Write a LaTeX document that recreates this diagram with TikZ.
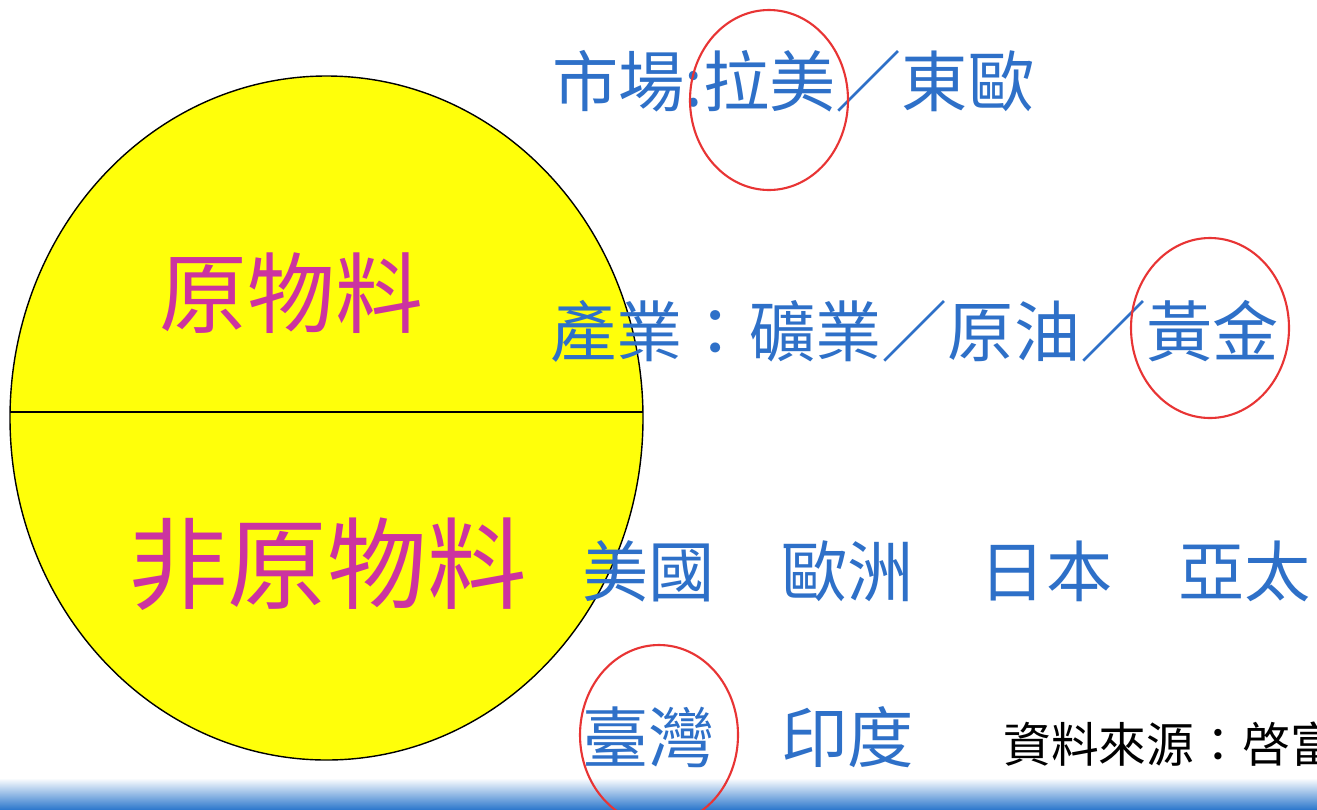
\documentclass[tikz,border=0pt]{standalone}
\usepackage{fontspec}
\setmainfont{Noto Sans CJK TC}
\usepackage{tikz}

\definecolor{txtblue}{RGB}{46,112,200}
\definecolor{rawpink}{RGB}{204,51,160}
\definecolor{mrkred}{RGB}{232,52,52}
\definecolor{barblue}{RGB}{48,122,205}
\definecolor{disk}{RGB}{255,255,10}

\tikzset{
  bluetext/.style={inner sep=0pt, anchor=base west, text=txtblue, font=\fontsize{37.7}{40}\selectfont},
  pinktext/.style={inner sep=0pt, anchor=base west, text=rawpink},
  marker/.style={draw=mrkred, line width=1.2pt}
}

\begin{document}
\begin{tikzpicture}[x=0.02cm, y=-0.02cm]
    \def \w {1317}
    \def \h {809}
    \useasboundingbox (0,0) rectangle (\w,\h);
    \clip (0,0) rectangle (\w,\h);
    \fill[white] (0,0) rectangle (\w,\h);
    % the split disk
    \coordinate (ctr) at (326.5,418);
    \draw[fill=disk, line width=0.8pt] (ctr) ellipse (316.5 and 342);
    \draw[line width=1pt] (10,412) -- (643,412);
    \node[pinktext, font=\fontsize{50}{52}\selectfont] (raw) at (159,326) {原物料};
    \node[pinktext, font=\fontsize{56.7}{60}\selectfont] (nonraw) at (128,601) {非原物料};
    % texts on the right
    \node[bluetext] (mkt) at (552,106) {市場:拉美／東歐};
    \node[bluetext] (ind) at (550,356) {產業：礦業／原油／黃金};
    \node[bluetext] (rega) at (582,596) {美國　歐洲　日本　亞太};
    \node[bluetext] (regb) at (582,762) {臺灣　印度};
    \node[inner sep=0pt, anchor=base west, font=\fontsize{27.2}{30}\selectfont] (src) at (1003,762) {資料來源：啓富};
    % bottom bar
    \shade[top color=white, bottom color=barblue] (0,778) rectangle (\w,\h);
    \foreach \cx/\cy in {769/100, 1210/328, 659/735}
    {
      \draw[marker] (\cx,\cy) ellipse (79 and 90);
    }
\end{tikzpicture}
\end{document}
